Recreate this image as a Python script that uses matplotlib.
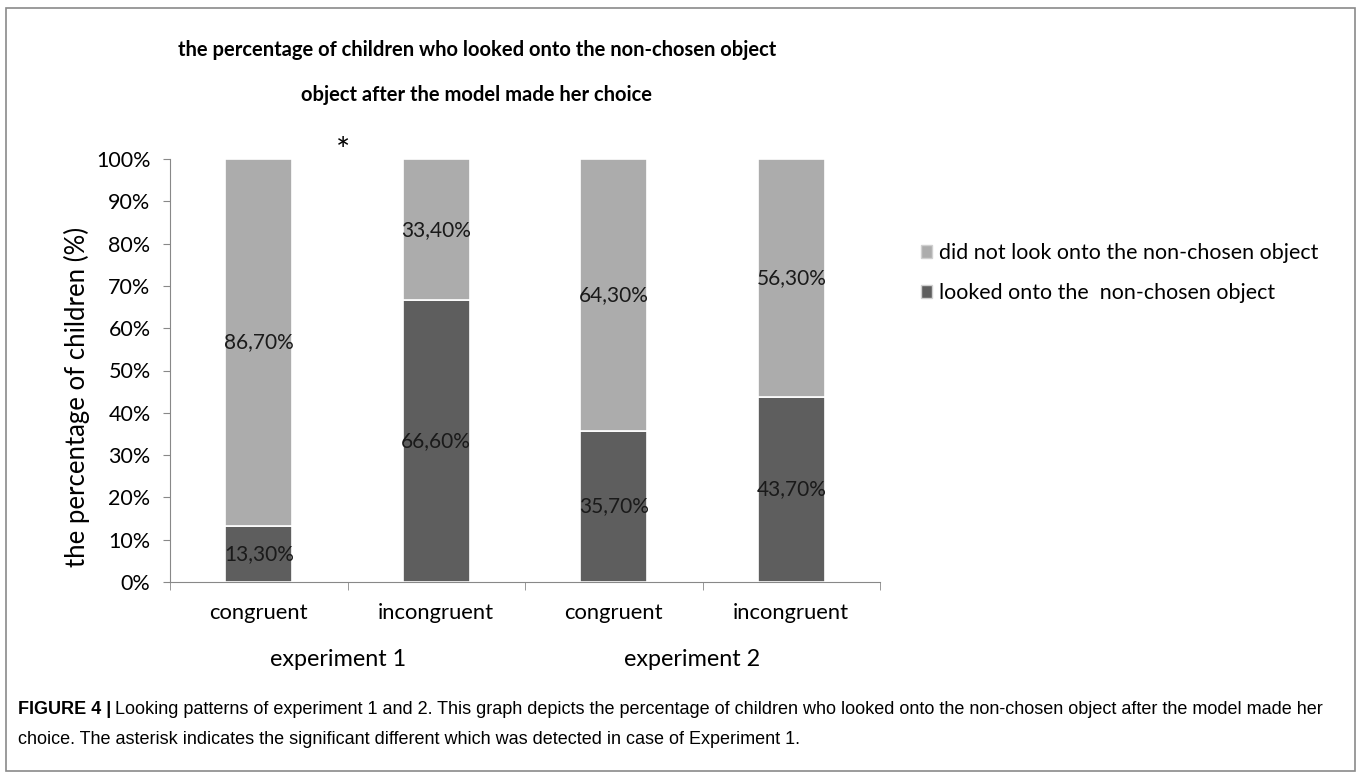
import numpy as np
import matplotlib
matplotlib.use('Agg')
import matplotlib.pyplot as plt
from matplotlib.patches import Rectangle, Patch

# Data
conditions = ['congruent', 'incongruent', 'congruent', 'incongruent']
experiments = ['experiment 1', 'experiment 2']
looked = [13.3, 66.6, 35.7, 43.7]
not_looked = [86.7, 33.4, 64.3, 56.3]
looked_labels = ['13,30%', '66,60%', '35,70%', '43,70%']
not_looked_labels = ['86,70%', '33,40%', '64,30%', '56,30%']
yticks = [0, 10, 20, 30, 40, 50, 60, 70, 80, 90, 100]

W, H = 1358, 775
LIGHT = '#acacac'
DARK = '#5e5e5e'
FONT = ['Lato', 'DejaVu Sans']


def px(x, y):
    """Pixel position (from top-left) to figure fraction."""
    return x / W, 1 - y / H


fig = plt.figure(figsize=(W / 100, H / 100), dpi=100)
fig.patch.set_facecolor('white')

# thin frame round the whole figure
fig.patches.append(Rectangle(px(6, 771), 1349 / W, 763 / H, transform=fig.transFigure,
                             fill=False, edgecolor='#8a8a8a', linewidth=1.2))

l, b = px(170, 582)
ax = fig.add_axes([l, b, (880 - 170) / W, (582 - 159) / H])

x = np.arange(len(conditions))
ax.bar(x, looked, width=0.38, color=DARK, edgecolor='white', linewidth=1.2, zorder=2)
ax.bar(x, not_looked, width=0.38, bottom=looked, color=LIGHT, edgecolor='white',
       linewidth=1.2, zorder=2)

for i in range(len(conditions)):
    ax.text(x[i], looked[i] / 2, looked_labels[i], ha='center', va='center',
            fontsize=15, family=FONT, color='#1a1a1a', zorder=3)
    ax.text(x[i], looked[i] + not_looked[i] / 2, not_looked_labels[i], ha='center',
            va='center', fontsize=15, family=FONT, color='#1a1a1a', zorder=3)

ax.set_xlim(-0.5, 3.5)
ax.set_ylim(0, 100)
ax.set_yticks(yticks)
ax.set_yticklabels([f'{v}%' for v in yticks], family=FONT, fontsize=15.5)
ax.set_xticks(x)
ax.set_xticklabels(conditions, family=FONT, fontsize=15.8)
ax.set_xticks([-0.5, 0.5, 1.5, 2.5, 3.5], minor=True)
ax.tick_params(axis='x', which='major', length=0, pad=15)
ax.tick_params(axis='x', which='minor', length=6, color='#888888', direction='out')
ax.tick_params(axis='y', length=5, color='#888888', direction='out', pad=9)
for side in ['top', 'right']:
    ax.spines[side].set_visible(False)
for side in ['left', 'bottom']:
    ax.spines[side].set_color('#888888')

# asterisk marking the significant difference in experiment 1
fig.text(*px(343, 152), '*', ha='center', va='center', fontsize=24, family=FONT)

# y label and group labels
fig.text(*px(77, 397), 'the percentage of children (%)', rotation=90, ha='center',
         va='center', fontsize=18.5, family=FONT)
fig.text(*px(338, 660), experiments[0], ha='center', va='center', fontsize=16.8, family=FONT)
fig.text(*px(692, 660), experiments[1], ha='center', va='center', fontsize=16.8, family=FONT)

# title
fig.text(*px(477, 50), 'the percentage of children who looked onto the non-chosen object',
         ha='center', va='center', fontsize=14.5, fontweight='bold', family=FONT)
fig.text(*px(477, 95), 'object after the model made her choice',
         ha='center', va='center', fontsize=14.5, fontweight='bold', family=FONT)

# legend
handles = [Patch(facecolor=LIGHT, edgecolor='#d0d0d0'), Patch(facecolor=DARK, edgecolor='#d0d0d0')]
fig.legend(handles, ['did not look onto the non-chosen object',
                     'looked onto the  non-chosen object'],
           loc='center left', bbox_to_anchor=px(912, 273), frameon=False,
           prop={'family': FONT, 'size': 15.4}, handlelength=0.55, handleheight=0.55,
           handletextpad=0.3, labelspacing=0.95, borderaxespad=0)

# caption
cap_font = ['Liberation Sans Narrow', 'Liberation Sans']
t = fig.text(*px(18, 710), 'FIGURE 4 |', ha='left', va='center', fontsize=13,
             fontweight='bold', family=cap_font)
fig.canvas.draw()
bb = t.get_window_extent()
fig.text((bb.x1 + 4) / W, 1 - 710 / H,
         'Looking patterns of experiment 1 and 2. This graph depicts the percentage of children '
         'who looked onto the non-chosen object after the model made her',
         ha='left', va='center', fontsize=13, family=cap_font)
fig.text(*px(18, 740),
         'choice. The asterisk indicates the significant different which was detected in case of Experiment 1.',
         ha='left', va='center', fontsize=13, family=cap_font)

fig.savefig('out.png', dpi=100, facecolor='white')
